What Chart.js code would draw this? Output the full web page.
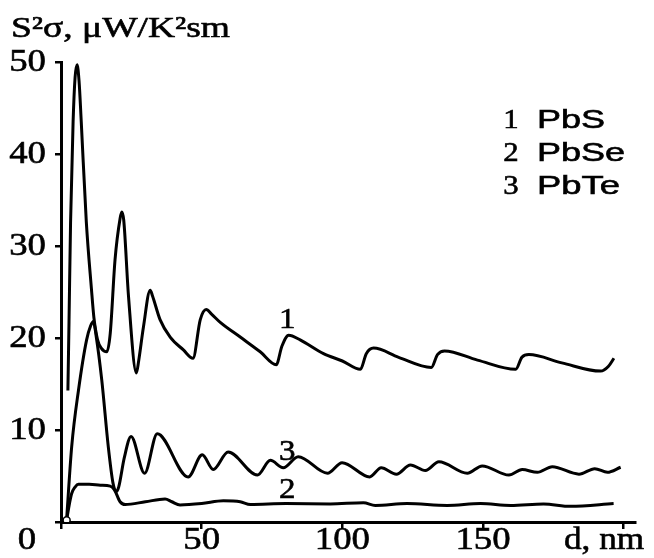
<!DOCTYPE html>
<html>
<head>
<meta charset="utf-8">
<script src="https://cdn.jsdelivr.net/npm/chart.js@4/dist/chart.umd.min.js"></script>
<style>
  html, body { margin: 0; padding: 0; background: #fff; }
  #wrap { width: 654px; height: 558px; position: relative; }
</style>
</head>
<body>
<div id="wrap"><canvas id="chart" width="654" height="558"></canvas></div>
<script>
// thickness d (nm) and power factor S^2*sigma
const pbsD = [2.45, 2.85, 3.4, 4.3, 5.0, 5.7, 6.4, 7.2, 9.0, 10.8, 11.7, 13, 14.3, 16.3, 17.5, 19.2, 21, 21.6, 22.3, 24, 26.8, 27.6, 29.3, 31.7, 32.5, 35.2, 38.8, 43.5, 46.9, 49.5, 51.6, 53.5, 56.6, 63.7, 70.8, 76.5, 78.5, 80.9, 85, 93.3, 100, 106.4, 108.5, 111.1, 120, 131.6, 133.8, 136.3, 148, 161.6, 163.8, 166.3, 178, 191.8, 194.5, 196.5];
const pbsV = [14.3, 21.8, 32.6, 43.5, 48.3, 49.7, 48, 43.5, 32.6, 25.4, 22.2, 19.8, 18.9, 18.5, 20.5, 28.5, 33, 33.7, 32.8, 24.5, 16.2, 17.5, 21.2, 25.2, 24.6, 22, 20.1, 18.7, 17.8, 22, 23.1, 22.6, 21.7, 20.1, 18.5, 17.1, 19.1, 20.3, 19.8, 18.3, 17.5, 16.6, 18.3, 18.9, 17.9, 16.8, 18.2, 18.6, 17.6, 16.6, 17.9, 18.2, 17.3, 16.4, 16.9, 17.8];

const pbseD = [2, 3.0, 3.8, 5, 6.2, 10, 14, 17.5, 19, 21, 22.8, 30, 37, 39.4, 42.3, 50, 57.7, 63.7, 67.3, 80, 95.7, 107.5, 111.7, 123, 137.3, 149.1, 159.8, 171.5, 181.1, 196.4];
const pbseV = [0.2, 2.0, 3.1, 3.8, 4.1, 4.1, 4.0, 3.9, 3.5, 2.2, 1.9, 2.2, 2.5, 2.2, 1.85, 2.0, 2.3, 2.2, 1.9, 2.0, 1.96, 2.1, 1.8, 2.0, 1.8, 2.0, 1.8, 1.96, 1.7, 2.0];

const pbteD = [2, 3.8, 6.2, 9.1, 10.5, 11.5, 12.5, 14.5, 16.8, 18.5, 19.6, 20.5, 22.5, 24.9, 29.7, 34.2, 45.2, 50.2, 54.1, 59.4, 69.8, 74.4, 79, 84.3, 94.7, 99.9, 109.7, 113.8, 119.2, 124.2, 129.5, 134.3, 144.4, 149.7, 159.2, 163.9, 169.3, 174.6, 184.1, 189.7, 194.2, 198.9];
const pbteV = [0.3, 8.2, 14.3, 19.8, 21.3, 21.8, 20.2, 15.4, 8.2, 4.2, 3.3, 3.8, 7, 9.3, 5.3, 9.6, 4.9, 7.3, 5.7, 7.6, 5.1, 6.7, 5.9, 7.1, 5.3, 6.45, 4.9, 5.9, 5.2, 6.2, 5.6, 6.55, 5.3, 6.1, 5.1, 5.7, 5.4, 6.0, 5.2, 5.8, 5.4, 5.95];

const xTicks = [50, 100, 150];
const yTicks = [10, 20, 30, 40, 50];
const legendNums = ["1", "2", "3"];
const legendNames = ["PbS", "PbSe", "PbTe"];

const SERIF = '"Liberation Serif", "DejaVu Serif", serif';
const SANS = '"Liberation Sans", Arial, sans-serif';

function toPoints(xs, ys) {
  return xs.map((x, i) => ({ x, y: ys[i] }));
}

function curve(data, extra) {
  return Object.assign({
    data,
    borderColor: "#000",
    borderWidth: 3,
    pointRadius: 0,
    fill: false,
    cubicInterpolationMode: "monotone",
  }, extra || {});
}

// draws text squeezed/stretched horizontally to the width it has in the picture
function drawText(ctx, text, x, y, font, opts) {
  ctx.save();
  ctx.font = font;
  ctx.fillStyle = "#000";
  ctx.strokeStyle = "#000";
  ctx.lineWidth = 0.6;
  ctx.textBaseline = opts.baseline || "alphabetic";
  const w = ctx.measureText(text).width;
  const sx = opts.width ? opts.width / w : (opts.sx || 1);
  const drawn = w * sx;
  let left = x;
  if (opts.align === "center") left = x - drawn / 2;
  if (opts.align === "right") left = x - drawn;
  ctx.translate(left, y);
  ctx.scale(sx, 1);
  ctx.fillText(text, 0, 0);
  ctx.strokeText(text, 0, 0);
  ctx.restore();
}

const textPlugin = {
  id: "texts",
  afterDraw(chart) {
    const ctx = chart.ctx;
    const xs = chart.scales.x;
    const ys = chart.scales.y;
    const tickFont = "32px " + SERIF;

    yTicks.forEach((v) => {
      drawText(ctx, String(v), 46, ys.getPixelForValue(v) + 1, tickFont,
        { align: "right", baseline: "middle", sx: 1.15 });
    });
    xTicks.forEach((v) => {
      drawText(ctx, String(v), xs.getPixelForValue(v), 541, tickFont,
        { align: "center", baseline: "middle", sx: 1.15 });
    });
    drawText(ctx, "0", 27, 541, tickFont, { align: "center", baseline: "middle", sx: 1.15 });
    drawText(ctx, "d, nm", 564, 541, tickFont, { baseline: "middle", sx: 1.1 });

    drawText(ctx, "S\u00b2\u03c3, \u03bcW/K\u00b2sm", 11, 37, "30px " + SERIF, { width: 219 });

    const rowY = [128, 161, 194];
    const nameW = [68, 88, 83];
    legendNums.forEach((n, i) => {
      drawText(ctx, n, 511, rowY[i], "28px " + SERIF, { align: "center", sx: 1.1 });
      drawText(ctx, legendNames[i], 537, rowY[i], "26px " + SANS, { width: nameW[i] });
    });

    const cx = xs.getPixelForValue(80.4);
    drawText(ctx, "1", cx, ys.getPixelForValue(21.1), "30px " + SERIF, { align: "center", sx: 1.1 });
    drawText(ctx, "3", cx, ys.getPixelForValue(6.7), "30px " + SERIF, { align: "center", sx: 1.1 });
    drawText(ctx, "2", cx, ys.getPixelForValue(2.6), "30px " + SERIF, { align: "center", sx: 1.1 });
  },
};

new Chart(document.getElementById("chart"), {
  type: "line",
  data: {
    datasets: [
      curve(toPoints(pbsD, pbsV)),
      curve(toPoints(pbseD, pbseV), {
        pointRadius: (c) => (c.dataIndex === 0 ? 3.5 : 0),
        pointBackgroundColor: "#fff",
        pointBorderColor: "#000",
        pointBorderWidth: 1.5,
      }),
      curve(toPoints(pbteD, pbteV)),
    ],
  },
  options: {
    responsive: false,
    animation: false,
    layout: { padding: { left: 0, top: 62, right: 19, bottom: 0 } },
    plugins: { legend: { display: false }, tooltip: { enabled: false } },
    scales: {
      x: {
        type: "linear",
        min: 0,
        max: 204,
        afterFit(s) { s.height = 36; },
        ticks: { display: false, stepSize: 50, includeBounds: false },
        grid: { drawOnChartArea: false, drawTicks: true, tickLength: 7, color: "#000", lineWidth: 2.5 },
        border: { color: "#000", width: 3 },
      },
      y: {
        min: 0,
        max: 50,
        afterFit(s) { s.width = 61; },
        ticks: { display: false, stepSize: 10, includeBounds: false },
        grid: { drawOnChartArea: false, drawTicks: true, tickLength: 6, color: "#000", lineWidth: 2.5 },
        border: { color: "#000", width: 3 },
      },
    },
  },
  plugins: [textPlugin],
});
</script>
</body>
</html>
